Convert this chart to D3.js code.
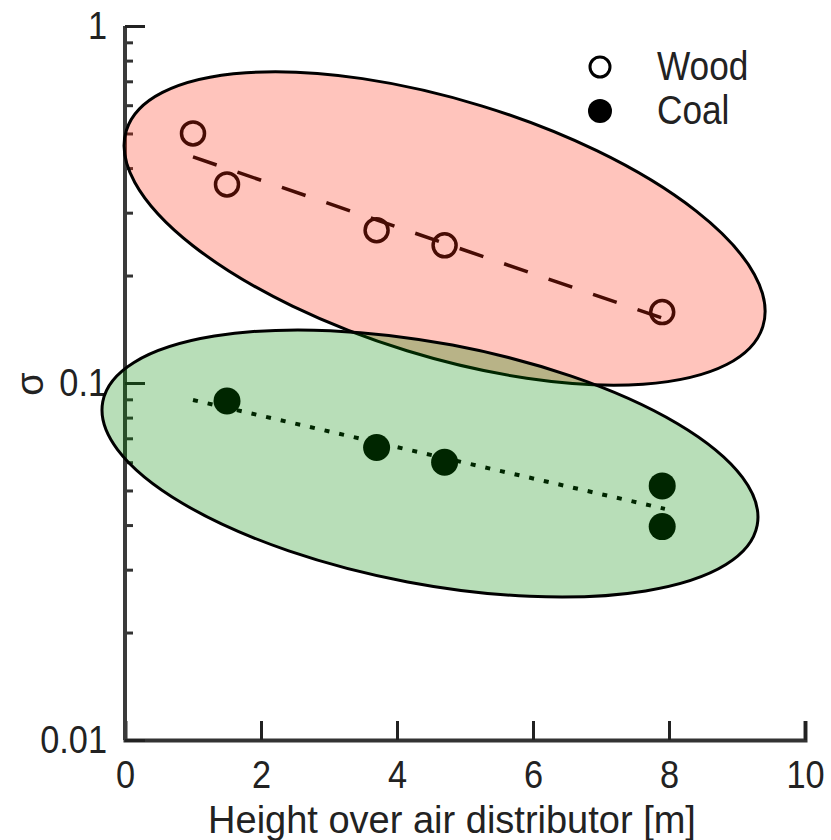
<!DOCTYPE html>
<html>
<head>
<meta charset="utf-8">
<script src="https://cdn.jsdelivr.net/npm/d3@7"></script>
<style>
  body { margin: 0; background: #fff; }
  text { font-family: "Liberation Sans", Arial, sans-serif; fill: #222; }
  .narrow { transform-box: fill-box; transform: scaleX(0.88); }
  .left-o { transform-origin: left center; }
  .mid-o { transform-origin: center center; }
  .right-o { transform-origin: right center; }
</style>
</head>
<body>
<svg id="chart" width="831" height="840"></svg>
<script>
// values
var seriesNames = ["Wood", "Coal"];
var woodX = [1.0, 1.5, 3.7, 4.7, 7.9];
var woodY = [0.50, 0.36, 0.268, 0.243, 0.158];
var coalX = [1.5, 3.7, 4.7, 7.9, 7.9];
var coalY = [0.089, 0.066, 0.060, 0.0515, 0.0396];
// fitted trend lines (end points)
var woodFitX = [1.0, 7.9];
var woodFitY = [0.43, 0.152];
var coalFitX = [1.0, 7.94];
var coalFitY = [0.0896, 0.0444];
// highlight ellipses: centre in data units
var ellipseCx = [4.70, 4.485];
var ellipseCy = [0.271, 0.0595];
var xTicks = [0, 2, 4, 6, 8, 10];
var yMajor = [0.01, 0.1, 1];
var yTickLabels = ["0.01", "0.1", "1"];

var svg = d3.select("#chart");

var x = d3.scaleLinear().domain([0, 10]).range([125, 805]);
var y = d3.scaleLog().domain([0.01, 1]).range([740, 26]);

// minor log ticks
var yMinor = [];
[0.01, 0.1].forEach(function(dec){
  for(var k = 2; k <= 9; k++) yMinor.push(dec * k);
});

// x axis
var gx = svg.append("g")
  .attr("transform", "translate(0,740)")
  .call(d3.axisBottom(x).tickValues(xTicks).tickSize(-19).tickPadding(20)
    .tickFormat(d3.format("d")));
gx.select(".domain").attr("stroke", "#333").attr("stroke-width", 4);
gx.selectAll(".tick line").attr("stroke", "#222").attr("stroke-width", 3);
gx.selectAll(".tick text").attr("font-size", 39).attr("fill", "#333")
  .attr("class", "narrow mid-o");

// y axis, minor ticks first
svg.append("g")
  .attr("transform", "translate(125,0)")
  .call(d3.axisLeft(y).tickValues(yMinor).tickSize(-8).tickFormat(""))
  .call(function(g){
    g.select(".domain").remove();
    g.selectAll(".tick line").attr("stroke", "#333").attr("stroke-width", 3);
  });

var gy = svg.append("g")
  .attr("transform", "translate(125,0)")
  .call(d3.axisLeft(y).tickValues(yMajor).tickSize(-20).tickPadding(18)
    .tickFormat(function(d, i){ return yTickLabels[i]; }));
gy.select(".domain").attr("stroke", "#3a3a3a").attr("stroke-width", 4)
  .attr("d", "M0,26V740");
gy.selectAll(".tick line").attr("stroke", "#222").attr("stroke-width", 3);
gy.selectAll(".tick text").attr("font-size", 39).attr("fill", "#333")
  .attr("class", "narrow right-o");

// axis titles
svg.append("text")
  .attr("x", 452).attr("y", 833)
  .attr("text-anchor", "middle")
  .attr("font-size", 38).attr("fill", "#333")
  .text("Height over air distributor [m]");

svg.append("text")
  .attr("transform", "translate(30,384) rotate(-90)")
  .attr("text-anchor", "middle")
  .attr("dominant-baseline", "central")
  .attr("font-size", 38).attr("fill", "#333")
  .text("σ");

// trend lines
var line = d3.line().x(function(d){ return x(d[0]); }).y(function(d){ return y(d[1]); });

svg.append("path")
  .datum(d3.zip(woodFitX, woodFitY))
  .attr("d", line)
  .attr("fill", "none").attr("stroke", "#000")
  .attr("stroke-width", 3.5).attr("stroke-dasharray", "25,22");

svg.append("path")
  .datum(d3.zip(coalFitX, coalFitY))
  .attr("d", line)
  .attr("fill", "none").attr("stroke", "#000")
  .attr("stroke-width", 4).attr("stroke-dasharray", "5,10");

// points
svg.append("g").selectAll("circle")
  .data(d3.zip(woodX, woodY))
  .join("circle")
  .attr("cx", function(d){ return x(d[0]); })
  .attr("cy", function(d){ return y(d[1]); })
  .attr("r", 11.5)
  .attr("fill", "none").attr("stroke", "#000").attr("stroke-width", 3.5);

svg.append("g").selectAll("circle")
  .data(d3.zip(coalX, coalY))
  .join("circle")
  .attr("cx", function(d){ return x(d[0]); })
  .attr("cy", function(d){ return y(d[1]); })
  .attr("r", 13.5)
  .attr("fill", "#000");

// translucent ellipses laid over the data
var ellipseStyle = [
  {fill: "#ff2a10", rx: 333, ry: 128, angle: 17.1},
  {fill: "#008a00", rx: 333, ry: 120.5, angle: 10.7}
];
ellipseStyle.forEach(function(s, i){
  svg.append("ellipse")
    .attr("transform", "translate(" + x(ellipseCx[i]) + "," + y(ellipseCy[i]) + ") rotate(" + s.angle + ")")
    .attr("rx", s.rx).attr("ry", s.ry)
    .attr("fill", s.fill).attr("fill-opacity", 0.28)
    .attr("stroke", "#000").attr("stroke-width", 3);
});

// legend
var legend = svg.append("g").attr("transform", "translate(600,67)");
seriesNames.forEach(function(name, i){
  var row = legend.append("g").attr("transform", "translate(0," + (i * 44) + ")");
  if(i === 0){
    row.append("circle").attr("r", 10).attr("fill", "none")
      .attr("stroke", "#000").attr("stroke-width", 3);
  } else {
    row.append("circle").attr("r", 12).attr("fill", "#000");
  }
  row.append("text")
    .attr("x", 57).attr("y", 13)
    .attr("font-size", 40).attr("fill", "#333")
    .attr("class", "narrow left-o")
    .text(name);
});
</script>
</body>
</html>
